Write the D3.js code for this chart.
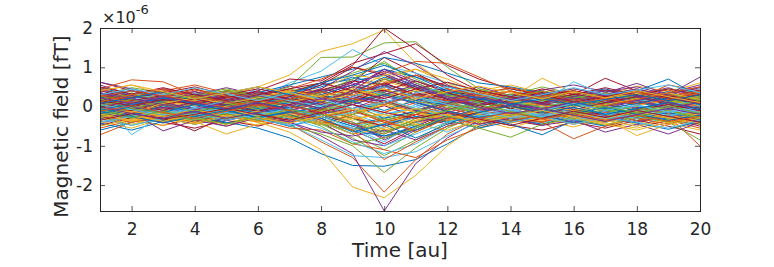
<!DOCTYPE html>
<html>
<head>
<meta charset="utf-8">
<script src="https://cdn.jsdelivr.net/npm/d3@7"></script>
<style>
  body { margin: 0; background: #fff; }
  text { font-family: 'DejaVu Sans', sans-serif; fill: #262626; }
</style>
</head>
<body>
<div class="canvas"></div>
<script>
// time samples (x axis)
const timePoints = [1, 2, 3, 4, 5, 6, 7, 8, 9, 10, 11, 12, 13, 14, 15, 16, 17, 18, 19, 20]
const xTicks = [2, 4, 6, 8, 10, 12, 14, 16, 18, 20]
const yTicks = [-2, -1, 0, 1, 2]
const yExponent = -6

// channel values, in units of 1e-6 fT
const quietChannels = [
  [0.31,0.12,0.25,-0.05,0.18,0.02,0.21,-0.08,0.35,0.52,0.28,0.10,0.22,-0.04,0.15,0.28,0.05,0.19,-0.02,0.24],
  [-0.22,-0.41,-0.10,-0.28,-0.05,-0.32,-0.12,-0.40,-0.55,-0.70,-0.38,-0.25,-0.08,-0.30,-0.12,-0.21,-0.35,-0.09,-0.28,-0.15],
  [0.05,0.22,-0.08,0.15,0.30,0.08,-0.12,0.20,0.42,0.15,-0.10,0.18,0.04,0.25,-0.06,0.12,0.33,0.02,0.16,0.40],
  [-0.45,-0.18,-0.35,-0.12,-0.28,-0.05,-0.30,-0.15,0.10,0.35,0.05,-0.20,-0.32,-0.10,-0.25,-0.40,-0.12,-0.30,-0.08,-0.35],
  [0.18,0.35,0.10,0.28,0.05,0.22,0.38,0.60,0.85,1.10,0.70,0.35,0.15,0.30,0.08,0.20,0.05,0.27,0.12,0.02],
  [0.42,0.20,0.38,0.15,0.30,0.10,0.25,0.05,-0.20,-0.45,-0.15,0.12,0.28,0.08,0.32,0.15,0.36,0.10,0.25,0.45],
  [-0.10,0.08,-0.25,-0.05,-0.18,0.10,-0.08,-0.30,-0.60,-0.95,-0.55,-0.22,0.02,-0.15,0.05,-0.10,-0.28,-0.02,-0.20,-0.05],
  [0.25,0.05,0.18,0.32,0.12,0.28,0.15,0.40,0.65,0.80,0.55,0.30,0.38,0.18,0.30,0.10,0.22,0.35,0.15,0.28],
  [-0.30,-0.12,-0.40,-0.22,-0.45,-0.20,-0.35,-0.10,0.20,0.45,0.15,-0.15,-0.28,-0.42,-0.18,-0.32,-0.10,-0.38,-0.25,-0.12],
  [0.08,-0.15,0.02,-0.20,0.10,-0.08,0.15,-0.05,-0.35,-0.15,0.20,0.02,-0.18,0.05,-0.22,0.10,-0.05,0.18,-0.12,0.05],
  [0.55,0.30,0.45,0.20,0.38,0.25,0.12,0.30,0.55,0.90,0.60,0.28,0.15,0.32,0.20,0.40,0.18,0.30,0.48,0.22],
  [-0.05,-0.25,-0.12,0.08,-0.15,-0.30,-0.10,-0.35,-0.70,-1.10,-0.65,-0.30,-0.15,0.02,-0.20,-0.08,-0.25,-0.12,0.05,-0.18],
  [0.12,0.28,0.35,0.10,0.25,0.40,0.18,0.05,0.30,0.15,-0.05,0.22,0.38,0.15,0.28,0.05,0.20,0.42,0.25,0.10],
  [-0.18,-0.05,-0.28,-0.38,-0.15,-0.25,-0.42,-0.20,0.05,0.30,0.10,-0.12,-0.25,-0.35,-0.48,-0.22,-0.38,-0.15,-0.30,-0.50],
  [0.35,0.15,0.05,0.22,0.40,0.20,0.32,0.50,0.75,0.55,0.38,0.45,0.20,0.10,0.35,0.25,0.12,0.05,0.30,0.18],
  [0.00,0.18,-0.10,0.05,-0.20,0.02,0.20,0.05,-0.25,-0.50,-0.28,0.05,0.15,-0.05,0.12,-0.15,0.08,-0.10,0.10,-0.02],
  [-0.38,-0.55,-0.30,-0.45,-0.25,-0.40,-0.22,-0.35,-0.60,-0.42,-0.20,-0.38,-0.50,-0.30,-0.45,-0.28,-0.42,-0.55,-0.35,-0.20],
  [0.20,0.02,0.30,0.12,0.02,0.35,0.10,0.25,0.50,0.95,0.65,0.40,0.10,0.25,0.40,0.12,0.28,0.08,0.35,0.55],
  [-0.12,0.05,-0.05,-0.22,0.08,-0.12,-0.25,-0.08,0.15,0.40,0.25,0.02,-0.15,0.05,-0.10,0.15,-0.08,0.02,-0.20,-0.30],
  [0.28,0.42,0.20,0.35,0.15,0.45,0.28,0.10,-0.15,-0.30,0.05,0.20,0.32,0.45,0.25,0.38,0.20,0.40,0.22,0.35],
  [-0.25,-0.10,-0.32,-0.15,-0.35,-0.18,-0.05,-0.20,-0.45,-0.80,-0.50,-0.18,-0.30,-0.12,-0.28,-0.40,-0.18,-0.30,-0.45,-0.25],
  [0.10,-0.08,0.15,0.28,0.05,-0.10,0.12,0.30,0.55,0.35,0.15,0.05,0.22,0.10,-0.05,0.18,0.30,0.12,-0.08,0.15],
  [-0.55,-0.35,-0.48,-0.30,-0.42,-0.25,-0.38,-0.18,-0.05,0.15,-0.10,-0.30,-0.45,-0.28,-0.38,-0.20,-0.35,-0.25,-0.40,-0.30],
  [0.38,0.55,0.30,0.45,0.28,0.50,0.35,0.20,0.40,0.65,0.42,0.25,0.40,0.55,0.35,0.45,0.30,0.52,0.38,0.60],
  [0.02,-0.18,-0.05,0.12,-0.10,0.05,-0.15,-0.02,0.25,0.60,0.30,0.08,-0.10,0.05,-0.18,0.00,0.15,-0.05,0.08,-0.12],
  [-0.32,-0.15,-0.22,-0.40,-0.20,-0.12,-0.30,-0.45,-0.80,-1.25,-0.85,-0.40,-0.20,-0.35,-0.15,-0.28,-0.10,-0.25,-0.38,-0.45],
  [0.15,0.30,0.22,0.05,0.20,0.32,0.08,0.22,0.05,-0.20,0.00,0.18,0.05,0.20,0.32,0.10,0.25,0.15,0.00,0.22],
  [-0.08,0.10,0.20,0.02,-0.12,0.15,0.30,0.12,0.40,0.70,0.45,0.25,0.10,-0.05,0.15,0.28,0.05,-0.10,0.12,0.30],
  [0.48,0.28,0.12,0.30,0.18,0.05,0.25,0.40,0.20,0.05,0.28,0.42,0.25,0.12,0.05,0.30,0.45,0.25,0.15,0.05],
  [-0.40,-0.22,-0.15,-0.30,-0.50,-0.28,-0.12,-0.25,-0.10,0.10,-0.12,-0.35,-0.20,-0.10,-0.32,-0.45,-0.28,-0.15,-0.35,-0.55],
  [0.22,0.08,-0.02,0.18,0.32,0.15,-0.05,0.08,-0.20,-0.60,-0.35,-0.10,0.12,0.28,0.10,-0.02,0.15,0.30,0.18,0.08],
  [-0.15,-0.32,-0.20,-0.08,-0.25,-0.38,-0.18,0.05,0.30,0.55,0.20,-0.05,-0.22,-0.10,0.05,-0.15,-0.30,-0.18,-0.05,0.10],
  [0.30,0.48,0.35,0.15,0.42,0.28,0.45,0.25,0.10,0.30,0.50,0.35,0.15,0.30,0.50,0.32,0.15,0.30,0.45,0.35],
  [-0.02,0.15,-0.15,-0.30,-0.08,0.10,-0.20,-0.05,-0.30,-0.55,-0.25,-0.40,-0.20,-0.05,-0.25,-0.10,0.05,-0.18,-0.28,-0.10],
  [0.12,-0.05,0.08,0.25,0.12,-0.02,0.18,0.35,0.62,1.25,0.85,0.45,0.20,0.05,0.18,0.30,0.10,0.25,0.08,0.20],
  [-0.60,-0.40,-0.28,-0.45,-0.30,-0.15,-0.32,-0.20,-0.45,-0.30,-0.12,-0.25,-0.38,-0.25,-0.10,-0.25,-0.40,-0.22,-0.30,-0.15],
  [0.45,0.25,0.40,0.55,0.35,0.20,0.42,0.28,0.15,0.40,0.25,0.10,0.30,0.48,0.30,0.15,0.35,0.20,0.55,0.40],
  [-0.20,-0.35,-0.48,-0.25,-0.10,-0.30,-0.15,-0.35,-0.15,0.15,-0.05,-0.22,-0.40,-0.25,-0.35,-0.52,-0.30,-0.45,-0.20,-0.38],
  [0.05,0.20,0.08,-0.10,0.05,0.18,0.02,-0.15,-0.40,-0.85,-0.50,-0.15,0.05,0.20,0.02,-0.12,0.05,0.15,-0.02,0.12],
  [0.25,0.10,-0.05,0.10,0.25,0.08,0.30,0.15,0.40,0.30,0.10,0.28,0.12,0.30,0.18,0.02,0.20,0.08,0.28,0.15],
  [-0.35,-0.20,-0.05,-0.18,-0.02,-0.22,-0.08,-0.25,-0.50,-0.35,-0.55,-0.30,-0.10,-0.28,-0.42,-0.20,-0.35,-0.50,-0.25,-0.40],
  [0.62,0.40,0.25,0.38,0.20,0.35,0.15,0.28,0.10,0.50,0.32,0.15,0.30,0.12,0.28,0.40,0.22,0.10,0.25,0.42],
  [-0.10,0.12,0.25,0.05,0.18,-0.05,0.10,0.25,0.05,-0.30,-0.12,0.15,0.02,0.20,0.35,0.15,0.00,0.22,0.10,-0.08],
  [0.15,-0.02,-0.18,-0.05,-0.22,-0.10,-0.28,-0.08,0.20,0.50,0.30,0.08,-0.10,-0.22,-0.05,0.10,-0.12,-0.28,-0.10,0.05],
  [-0.28,-0.45,-0.25,-0.10,-0.30,-0.48,-0.25,-0.42,-0.25,-0.60,-0.45,-0.20,-0.35,-0.55,-0.30,-0.15,-0.32,-0.18,-0.42,-0.60],
  [0.35,0.18,0.45,0.30,0.48,0.30,0.52,0.35,0.60,0.40,0.20,0.35,0.50,0.28,0.42,0.55,0.38,0.50,0.30,0.48],
  [-0.05,-0.22,-0.35,-0.18,-0.02,-0.15,0.05,-0.12,0.10,0.35,0.15,-0.02,-0.15,0.00,-0.20,-0.32,-0.15,0.02,-0.15,-0.25],
  [0.10,0.25,0.05,-0.12,-0.28,-0.05,-0.20,0.02,-0.15,0.10,0.30,0.10,-0.05,0.12,-0.02,0.18,0.32,0.15,-0.02,0.25],
  [-0.48,-0.28,-0.40,-0.55,-0.35,-0.50,-0.30,-0.45,-0.20,0.02,-0.25,-0.45,-0.30,-0.48,-0.60,-0.40,-0.55,-0.35,-0.50,-0.70]
]

// channels with a strong response around t = 10
const evokedChannels = [
  [-0.28,-0.12,-0.35,-0.20,-0.40,-0.55,-0.80,-1.20,-1.50,-1.52,-1.35,-0.95,-0.50,-0.30,-0.45,-0.25,-0.38,-0.20,-0.32,-0.15],
  [0.02,-0.15,-0.02,-0.18,-0.08,-0.30,-0.45,-0.90,-1.30,-2.18,-1.35,-0.70,-0.30,-0.12,-0.28,-0.10,-0.22,-0.05,-0.18,-0.32],
  [0.05,0.20,-0.05,0.15,0.30,0.50,0.80,1.40,1.60,1.95,1.10,0.55,0.30,0.12,0.25,0.05,0.20,0.35,0.15,0.02],
  [0.15,0.00,0.18,0.05,-0.10,0.08,-0.20,-0.40,-0.85,-1.00,-0.60,-0.30,-0.10,0.05,-0.12,0.10,-0.05,0.15,0.00,-0.15],
  [0.10,-0.05,0.12,0.28,0.10,0.25,0.50,1.25,1.26,1.62,1.65,1.00,0.45,0.20,0.05,0.18,0.30,0.12,0.25,0.08],
  [0.20,0.05,0.25,0.12,0.35,0.18,0.60,0.90,1.45,1.05,0.85,0.60,0.40,0.25,0.10,0.28,0.15,0.05,0.20,0.35],
  [0.28,0.12,0.30,0.45,0.22,0.40,0.70,0.65,1.10,1.35,1.60,1.05,0.70,0.45,0.30,0.40,0.25,0.38,0.18,0.10],
  [-0.12,0.08,0.22,0.05,0.18,0.35,0.55,0.75,0.95,1.25,1.10,0.85,0.60,0.50,0.35,0.20,0.30,0.15,0.28,0.12],
  [0.30,0.15,0.02,0.20,0.40,0.25,0.45,0.70,1.00,0.85,1.15,1.10,0.75,0.40,0.20,0.35,0.15,0.30,0.42,0.20],
  [-0.35,-0.18,-0.30,-0.45,-0.25,-0.40,-0.65,-1.10,-2.05,-2.32,-1.75,-1.00,-0.45,-0.30,-0.15,-0.32,-0.48,-0.25,-0.38,-0.20],
  [-0.20,-0.05,-0.25,-0.12,-0.35,-0.20,-0.40,-0.75,-1.20,-2.66,-1.45,-0.80,-0.35,-0.20,-0.05,-0.25,-0.12,-0.30,-0.15,-0.40],
  [-0.15,-0.30,-0.10,-0.25,-0.08,-0.22,-0.50,-0.70,-1.00,-1.68,-1.05,-0.55,-0.20,-0.35,-0.18,-0.05,-0.20,-0.35,-0.10,-0.25],
  [0.10,-0.08,0.05,-0.15,-0.05,-0.25,-0.45,-0.85,-1.25,-1.30,-1.15,-0.75,-0.40,-0.25,-0.10,-0.28,-0.12,0.02,-0.15,-0.05],
  [0.15,0.32,0.10,0.25,0.05,0.20,0.35,0.60,1.05,2.00,1.45,0.80,0.40,0.22,0.35,0.15,0.28,0.10,0.22,0.30],
  [0.22,0.40,0.18,0.05,0.25,0.12,0.35,0.55,0.70,0.95,0.75,0.50,0.30,0.15,0.32,0.20,0.05,0.22,0.38,0.15],
  [-0.22,-0.40,-0.18,-0.32,-0.15,-0.35,-0.55,-0.60,-0.95,-1.10,-1.30,-0.85,-0.55,-0.30,-0.40,-0.20,-0.35,-0.15,-0.28,-0.45],
  [0.00,0.15,0.30,0.12,-0.05,0.15,0.28,0.45,0.80,0.70,0.95,0.60,0.25,0.40,0.20,0.05,0.20,0.32,0.10,0.25],
  [-0.30,-0.15,-0.02,-0.20,-0.35,-0.18,-0.40,-0.65,-0.75,-0.60,-0.85,-0.50,-0.28,-0.40,-0.22,-0.05,-0.25,-0.40,-0.22,-0.35],
  [0.18,0.02,0.15,0.30,0.45,0.28,0.10,0.30,0.15,0.70,0.50,0.30,0.45,0.28,0.10,0.25,0.40,0.22,0.08,0.20],
  [-0.12,-0.28,-0.15,0.00,-0.18,-0.32,-0.15,-0.35,-0.55,-0.90,-0.40,-0.65,-0.30,-0.12,-0.28,-0.40,-0.18,-0.05,-0.22,-0.10],
  [0.40,0.22,0.35,0.50,0.30,0.45,0.28,0.42,0.65,0.55,0.80,0.52,0.35,0.20,0.38,0.25,0.42,0.28,0.45,0.30],
  [-0.42,-0.60,-0.38,-0.25,-0.42,-0.30,-0.50,-0.30,-0.62,-0.75,-0.50,-0.35,-0.55,-0.38,-0.22,-0.40,-0.28,-0.42,-0.58,-0.38]
]

// noisier channels with single spikes
const spikyChannels = [
  [-0.72,-0.40,-0.25,-0.40,-0.20,-0.35,-0.15,-0.30,-0.10,-0.35,-0.20,-0.05,-0.22,-0.38,-0.20,-0.35,-0.15,-0.30,-0.25,-1.00],
  [-0.18,-0.35,-0.20,-0.38,-0.70,-0.45,-0.25,-0.40,-0.20,0.05,-0.15,-0.30,-0.12,-0.28,-0.10,-0.25,-0.40,-0.18,-0.30,-0.12],
  [0.62,0.45,0.25,0.38,0.20,0.35,0.18,0.05,0.25,0.10,0.30,0.15,0.35,0.20,0.40,0.22,0.10,0.25,0.30,0.75],
  [0.05,-0.10,0.08,-0.05,0.12,-0.02,0.15,0.02,-0.20,0.10,-0.08,0.05,-0.15,0.02,-0.12,0.05,-0.08,-0.15,-0.40,-0.85],
  [0.25,-0.72,-0.20,-0.35,-0.15,-0.30,-0.10,-0.25,0.05,-0.20,-0.05,-0.15,-0.30,-0.10,-0.25,-0.12,-0.30,-0.20,-0.05,-0.15],
  [0.20,0.05,-0.10,0.12,0.25,0.08,-0.05,0.18,0.35,0.60,0.30,0.15,0.40,0.25,0.10,0.30,0.72,0.40,0.20,0.35],
  [0.15,0.28,0.10,0.25,0.08,0.22,0.05,0.30,0.12,-0.10,0.15,0.32,0.18,0.05,0.25,0.12,0.30,0.40,0.70,0.25],
  [0.45,0.68,0.63,0.30,0.15,0.32,0.10,0.25,0.05,-0.15,0.10,0.25,0.08,0.22,0.38,0.15,0.30,0.10,0.25,0.12],
  [0.12,0.30,0.15,0.02,0.20,0.35,0.12,0.28,0.45,0.25,0.40,0.22,0.38,0.20,0.72,0.35,0.18,0.32,0.15,0.28],
  [-0.25,-0.08,0.10,-0.05,0.12,-0.10,0.05,-0.18,-0.05,0.25,0.10,-0.08,0.12,0.25,0.05,0.18,0.35,0.59,0.30,0.12],
  [-0.25,-0.48,-0.30,-0.15,-0.32,-0.12,-0.28,-0.45,-0.60,-0.30,-0.50,-0.35,-0.55,-0.78,-0.45,-0.30,-0.48,-0.25,-0.40,-0.30],
  [-0.05,0.12,0.28,0.10,-0.05,0.15,0.30,0.12,0.50,0.30,0.10,0.25,0.08,0.28,0.12,0.63,0.30,0.12,0.25,0.05],
  [0.08,-0.12,-0.30,-0.62,-0.25,-0.10,-0.28,-0.05,-0.30,-0.50,-0.20,-0.35,-0.15,0.02,-0.18,-0.05,-0.22,-0.08,0.05,-0.10],
  [-0.10,-0.28,-0.12,-0.30,-0.15,-0.05,-0.22,-0.40,-0.70,-0.45,-0.25,-0.40,-0.25,-0.45,-0.72,-0.35,-0.50,-0.30,-0.15,-0.35],
  [0.05,-0.12,-0.25,-0.08,-0.22,-0.38,-0.15,-0.30,-0.10,-0.40,-0.60,-0.30,-0.45,-0.25,-0.40,-0.82,-0.50,-0.30,-0.45,-0.25],
  [-0.05,-0.20,-0.38,-0.20,-0.05,-0.25,-0.10,-0.30,-0.15,0.05,-0.15,-0.35,-0.20,-0.42,-0.28,-0.45,-0.30,-0.74,-0.45,-0.30],
  [-0.30,-0.15,-0.62,-0.35,-0.50,-0.28,-0.40,-0.20,-0.45,-0.65,-0.40,-0.25,-0.45,-0.30,-0.48,-0.35,-0.65,-0.45,-0.70,-0.40]
]

// remaining background channels
const backgroundChannels = [
  [0.20,-0.05,0.12,0.28,0.10,-0.08,0.18,0.35,0.70,1.15,0.60,0.30,0.12,-0.05,0.15,0.28,0.08,-0.10,0.12,0.25],
  [-0.15,0.05,-0.20,-0.02,-0.25,-0.10,-0.30,-0.55,-0.90,-1.20,-0.95,-0.50,-0.25,-0.08,-0.22,-0.05,-0.18,-0.30,-0.12,0.02],
  [0.32,0.15,0.28,0.08,0.22,0.38,0.20,0.45,0.30,0.10,0.35,0.20,0.05,0.25,0.10,0.32,0.18,0.05,0.28,0.12],
  [-0.05,-0.22,0.02,-0.15,0.05,-0.18,-0.02,0.12,0.35,0.75,0.50,0.20,-0.05,0.10,-0.12,0.05,-0.20,-0.05,0.12,-0.08],
  [0.08,0.25,0.40,0.22,0.38,0.15,0.30,0.12,-0.10,-0.40,-0.20,0.05,0.22,0.38,0.20,0.05,0.22,0.38,0.20,0.35],
  [-0.28,-0.12,-0.25,-0.42,-0.22,-0.38,-0.18,-0.40,-0.70,-0.55,-0.35,-0.20,-0.35,-0.18,-0.32,-0.15,-0.30,-0.12,-0.28,-0.42],
  [0.00,0.12,-0.05,0.10,-0.08,0.05,0.20,0.45,0.90,1.40,1.05,0.55,0.20,0.08,-0.05,0.12,0.00,0.15,-0.05,0.10],
  [0.18,0.32,0.15,0.28,0.40,0.25,0.10,-0.05,-0.30,-0.65,-0.40,-0.10,0.12,0.25,0.40,0.22,0.35,0.18,0.32,0.15],
  [-0.40,-0.25,-0.12,-0.28,-0.15,-0.32,-0.48,-0.30,-0.15,0.20,-0.05,-0.25,-0.10,-0.30,-0.18,-0.35,-0.20,-0.10,-0.25,-0.05],
  [0.10,-0.10,0.05,0.20,0.02,-0.12,0.05,0.25,0.50,0.40,0.65,0.35,0.15,-0.05,0.08,-0.08,0.10,0.25,0.05,-0.10],
  [-0.08,0.05,0.22,0.08,-0.08,0.10,-0.05,-0.25,-0.50,-0.75,-0.60,-0.28,-0.05,0.12,0.25,0.10,-0.05,0.08,0.22,0.05],
  [0.28,0.10,0.25,0.42,0.25,0.12,0.30,0.15,0.35,0.60,0.80,0.45,0.28,0.40,0.22,0.10,0.30,0.45,0.28,0.38],
  [-0.20,-0.38,-0.22,-0.08,-0.25,-0.12,-0.28,-0.45,-0.30,-0.20,-0.45,-0.60,-0.35,-0.20,-0.05,-0.20,-0.35,-0.50,-0.32,-0.18],
  [0.42,0.28,0.15,0.32,0.18,0.35,0.20,0.38,0.55,0.85,0.50,0.20,0.35,0.18,0.32,0.45,0.28,0.15,0.32,0.50],
  [0.02,0.18,0.05,-0.12,0.02,0.18,0.35,0.15,-0.05,-0.35,-0.15,0.10,-0.05,0.12,-0.02,0.15,-0.02,-0.18,-0.02,0.15],
  [-0.32,-0.48,-0.30,-0.18,-0.35,-0.20,-0.05,-0.25,-0.55,-1.00,-0.70,-0.40,-0.22,-0.40,-0.25,-0.45,-0.28,-0.40,-0.55,-0.35],
  [0.15,0.02,0.18,0.05,0.28,0.12,0.25,0.55,1.00,0.80,0.45,0.18,0.02,0.15,0.30,0.12,0.25,0.40,0.22,0.08],
  [-0.12,-0.25,-0.42,-0.25,-0.10,-0.28,-0.15,-0.02,0.15,0.30,0.10,-0.12,-0.28,-0.15,-0.30,-0.18,-0.02,-0.20,-0.35,-0.22],
  [0.25,0.40,0.28,0.12,-0.02,0.15,0.02,-0.15,-0.45,-0.35,-0.65,-0.30,-0.08,0.10,0.25,0.40,0.22,0.05,0.18,0.32],
  [-0.02,-0.15,0.08,0.22,0.08,0.22,0.40,0.25,0.45,0.80,0.95,0.70,0.35,0.15,0.02,-0.10,0.05,0.20,0.35,0.18],
  [0.35,0.20,0.05,-0.08,0.12,0.28,0.12,-0.05,0.20,0.15,-0.10,0.08,0.25,0.08,-0.08,0.12,0.30,0.45,0.25,0.08],
  [-0.25,-0.05,-0.18,-0.35,-0.18,-0.35,-0.22,-0.50,-0.95,-0.80,-0.55,-0.25,-0.40,-0.22,-0.05,-0.20,-0.08,-0.25,-0.10,-0.30],
  [0.05,-0.08,-0.22,-0.05,0.15,0.30,0.15,0.02,0.25,0.50,0.25,0.05,-0.12,-0.28,-0.10,0.08,-0.10,0.05,-0.15,-0.02],
  [0.50,0.32,0.48,0.30,0.15,0.30,0.45,0.60,0.40,0.20,0.45,0.62,0.40,0.25,0.45,0.30,0.48,0.30,0.15,0.30],
  [-0.18,0.00,-0.15,0.05,-0.10,-0.28,-0.12,-0.30,-0.65,-0.45,-0.80,-0.45,-0.15,0.02,-0.15,-0.02,-0.20,-0.05,0.10,-0.08],
  [0.12,0.30,0.45,0.25,0.12,0.02,0.20,0.38,0.20,0.05,0.30,0.15,0.32,0.48,0.30,0.18,0.02,0.18,0.35,0.50],
  [-0.50,-0.32,-0.15,-0.30,-0.45,-0.28,-0.42,-0.25,-0.05,-0.25,-0.05,-0.22,-0.40,-0.25,-0.10,-0.28,-0.45,-0.60,-0.40,-0.25],
  [0.22,0.08,0.25,0.10,-0.05,0.10,-0.10,0.10,0.40,0.95,0.55,0.25,0.05,0.22,0.08,0.25,0.40,0.25,0.10,-0.05],
  [-0.08,-0.28,-0.12,-0.30,-0.45,-0.25,-0.08,-0.20,-0.40,-0.70,-0.30,-0.10,0.05,-0.12,-0.30,-0.15,0.00,-0.15,0.02,-0.18],
  [0.30,0.45,0.30,0.48,0.32,0.15,0.35,0.20,-0.05,0.10,0.35,0.50,0.32,0.15,0.30,0.48,0.30,0.42,0.55,0.35],
  [-0.35,-0.18,-0.32,-0.20,-0.05,-0.20,-0.35,-0.15,0.05,-0.15,-0.30,-0.15,-0.32,-0.48,-0.30,-0.12,-0.28,-0.10,-0.25,-0.40],
  [0.08,0.22,0.38,0.20,0.35,0.50,0.30,0.60,0.80,1.05,0.75,0.40,0.20,0.05,0.20,0.05,0.18,0.30,0.15,0.30],
  [-0.12,0.02,-0.15,-0.30,-0.12,0.05,-0.10,-0.35,-0.60,-1.35,-0.90,-0.50,-0.30,-0.15,-0.32,-0.18,-0.35,-0.22,-0.38,-0.25],
  [0.40,0.55,0.38,0.20,0.35,0.50,0.35,0.15,0.30,0.45,0.20,0.38,0.52,0.35,0.20,0.38,0.22,0.40,0.25,0.10],
  [0.00,-0.18,-0.30,-0.12,-0.30,-0.15,0.02,0.20,0.05,0.30,0.55,0.20,-0.02,-0.18,-0.05,-0.22,-0.38,-0.20,-0.05,-0.20]
]

const channels = quietChannels.concat(evokedChannels, spikyChannels, backgroundChannels)

// matlab default line colors
const lineColors = ['#0072BD', '#D95319', '#EDB120', '#7E2F8E', '#77AC30', '#4DBEEE', '#A2142F']

const dimension = { width: 774, height: 267 }
const margin = { top: 28, right: 74, bottom: 56, left: 100 }
const plot = {
  width: dimension.width - margin.left - margin.right,
  height: dimension.height - margin.top - margin.bottom
}

const svg = d3.select('.canvas')
  .append('svg')
  .attr('width', dimension.width)
  .attr('height', dimension.height)

const graph = svg.append('g')
  .attr('transform', `translate(${margin.left}, ${margin.top})`)

// tight limits like matlab's axis tight
const x = d3.scaleLinear()
  .domain(d3.extent(timePoints))
  .range([0, plot.width])

const y = d3.scaleLinear()
  .domain(d3.extent(channels.flat()))
  .range([plot.height, 0])

const color = d3.scaleOrdinal(lineColors)

graph.append('clipPath')
  .attr('id', 'plot-clip')
  .append('rect')
  .attr('width', plot.width)
  .attr('height', plot.height)

const line = d3.line()
  .x((d, i) => x(timePoints[i]))
  .y(d => y(d))

graph.append('g')
  .attr('clip-path', 'url(#plot-clip)')
  .selectAll('path')
  .data(channels)
  .enter()
  .append('path')
    .attr('d', line)
    .attr('fill', 'none')
    .attr('stroke', (d, i) => color(i % lineColors.length))
    .attr('stroke-width', 1)

// axes, ticks point inward
const tickLen = 5

const xAxis = d3.axisBottom(x)
  .tickValues(xTicks)
  .tickFormat(d => String(d))
  .tickSizeInner(-tickLen)
  .tickSizeOuter(0)
  .tickPadding(12)

const yAxis = d3.axisLeft(y)
  .tickValues(yTicks)
  .tickFormat(d => String(d))
  .tickSizeInner(-tickLen)
  .tickSizeOuter(0)
  .tickPadding(7)

const xAxisTop = d3.axisTop(x).tickValues(xTicks).tickSize(-tickLen).tickFormat('')
const yAxisRight = d3.axisRight(y).tickValues(yTicks).tickSize(-tickLen).tickFormat('')

const axes = [
  graph.append('g').attr('transform', `translate(0, ${plot.height})`).call(xAxis),
  graph.append('g').call(yAxis),
  graph.append('g').call(xAxisTop),
  graph.append('g').attr('transform', `translate(${plot.width}, 0)`).call(yAxisRight)
]

axes.forEach(a => {
  a.selectAll('.domain').remove()
  a.selectAll('line').attr('stroke', '#262626').attr('stroke-width', 0.8)
  a.selectAll('text')
    .attr('fill', '#262626')
    .style('font-size', '17px')
    .style('font-family', "'DejaVu Sans', sans-serif")
})

// box around the plot
graph.append('rect')
  .attr('width', plot.width)
  .attr('height', plot.height)
  .attr('fill', 'none')
  .attr('stroke', '#262626')
  .attr('stroke-width', 1)
  .attr('shape-rendering', 'crispEdges')

// exponent label
const expLabel = graph.append('text')
  .attr('x', 2)
  .attr('y', -5)
  .style('font-size', '16px')

expLabel.append('tspan').text('\u00d710')
expLabel.append('tspan')
  .attr('dy', -9)
  .style('font-size', '13px')
  .text(`${yExponent}`)

// axis titles
graph.append('text')
  .attr('x', plot.width / 2)
  .attr('y', plot.height + 46)
  .attr('text-anchor', 'middle')
  .style('font-size', '20px')
  .text('Time [au]')

graph.append('text')
  .attr('transform', `translate(-32, ${plot.height / 2 + 7}) rotate(-90)`)
  .attr('text-anchor', 'middle')
  .style('font-size', '20px')
  .text('Magnetic field [fT]')
</script>
</body>
</html>
